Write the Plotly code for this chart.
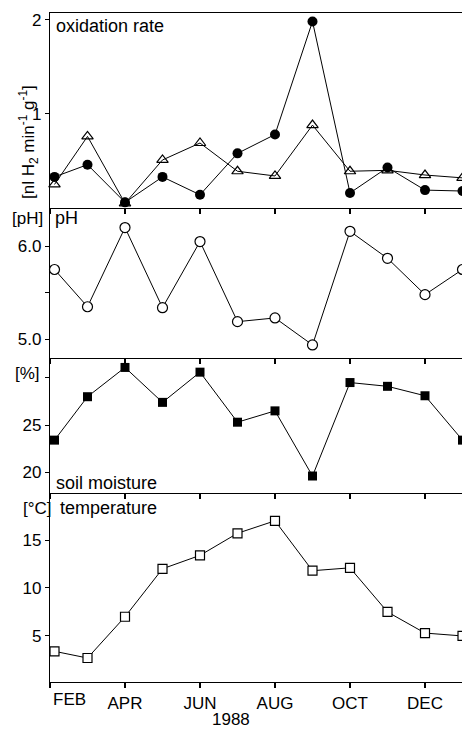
import plotly.graph_objects as go

months_x = [0.12, 1, 2, 3, 4, 5, 6, 7, 8, 9, 10, 11]
tick_pos = [0, 2, 4, 6, 8, 10]
tick_labels = ["FEB", "APR", "JUN", "AUG", "OCT", "DEC"]

ox_filled = [0.33, 0.46, 0.06, 0.33, 0.14, 0.58, 0.78, 1.98, 0.16, 0.43, 0.19, 0.18]
ox_open = [0.25, 0.76, 0.05, 0.51, 0.69, 0.39, 0.34, 0.88, 0.39, 0.40, 0.35, 0.32]
ph = [5.75, 5.35, 6.20, 5.34, 6.05, 5.19, 5.23, 4.94, 6.16, 5.87, 5.48, 5.75]
moisture = [23.4, 28.0, 31.1, 27.4, 30.6, 25.3, 26.5, 19.6, 29.5, 29.1, 28.1, 23.4]
temperature = [3.4, 2.7, 7.0, 12.0, 13.4, 15.7, 17.0, 11.8, 12.1, 7.5, 5.3, 5.0]

FONT = "Liberation Sans"
TICK = 17
LAB = 18
fig = go.Figure()

line = dict(color="black", width=1)
fig.add_trace(go.Scatter(x=months_x, y=ox_open, mode="lines+markers", line=line,
                         marker=dict(symbol="triangle-up-open", size=10, color="black",
                                     line=dict(width=1.2)),
                         xaxis="x", yaxis="y", cliponaxis=False))
fig.add_trace(go.Scatter(x=months_x, y=ox_filled, mode="lines+markers", line=line,
                         marker=dict(symbol="circle", size=10, color="black"),
                         xaxis="x", yaxis="y", cliponaxis=False))
fig.add_trace(go.Scatter(x=months_x, y=ph, mode="lines+markers", line=line,
                         marker=dict(symbol="circle", size=10, color="white",
                                     line=dict(color="black", width=1.2)),
                         xaxis="x2", yaxis="y2", cliponaxis=False))
fig.add_trace(go.Scatter(x=months_x, y=moisture, mode="lines+markers", line=line,
                         marker=dict(symbol="square", size=9, color="black"),
                         xaxis="x3", yaxis="y3", cliponaxis=False))
fig.add_trace(go.Scatter(x=months_x, y=temperature, mode="lines+markers", line=line,
                         marker=dict(symbol="square", size=9, color="white",
                                     line=dict(color="black", width=1.2)),
                         xaxis="x4", yaxis="y4", cliponaxis=False))

# page has an 8px body margin: figure is drawn 8px right/down
OFF = 8
FW, FH = 470 - OFF, 729 - OFF
L, R, T, B = 50, 470, 13, 682  # plot area in reference pixel coords
W = float(R - L)
H = float(B - T)
d_temp = [0, 189 / H]
d_moist = [189 / H, 324 / H]
d_ph = [324 / H, 474 / H]
d_ox = [474 / H, 1]

xcommon = dict(range=[0, 11.2], autorange=False, automargin=False, showline=True,
               linecolor="black", linewidth=1.3,
               ticks="outside", ticklen=5, tickcolor="black", tickwidth=1.5,
               tickvals=tick_pos, showgrid=False, zeroline=False)
ycommon = dict(showline=True, automargin=False, autorange=False, linecolor="black",
               linewidth=1.3, ticks="outside",
               ticklen=4, tickcolor="black", tickwidth=1, showgrid=False,
               zeroline=False, tickfont=dict(family=FONT, size=TICK, color="black"))

fig.update_layout(
    width=FW, height=FH,
    margin=dict(l=L - OFF, r=470 - R, t=T - OFF, b=729 - B, pad=0, autoexpand=False),
    paper_bgcolor="white", plot_bgcolor="white",
    showlegend=False,
    font=dict(family=FONT, size=TICK, color="black"),
    xaxis=dict(**xcommon, anchor="y", showticklabels=False, mirror=True),
    xaxis2=dict(**xcommon, anchor="y2", showticklabels=False),
    xaxis3=dict(**xcommon, anchor="y3", showticklabels=False),
    xaxis4=dict(**xcommon, anchor="y4",
                ticktext=[""] + tick_labels[1:],
                tickfont=dict(family=FONT, size=TICK, color="black")),
    yaxis=dict(**ycommon, domain=d_ox, range=[0, 2.07], tickvals=[1, 2],
               ticktext=["1", "2"], anchor="x"),
    yaxis2=dict(**ycommon, domain=d_ph, range=[4.80, 6.41], tickvals=[5.0, 5.5, 6.0],
                ticktext=["5.0", "", "6.0"], anchor="x2"),
    yaxis3=dict(**ycommon, domain=d_moist, range=[17.8, 32.1], tickvals=[20, 25, 30],
                ticktext=["20", "25", ""], anchor="x3"),
    yaxis4=dict(**ycommon, domain=d_temp, range=[0.2, 19.9], tickvals=[5, 10, 15],
                ticktext=["5", "10", "15"], anchor="x4"),
)

ann = [
    dict(text="oxidation rate", x=54, y=26, xanchor="left", size=LAB),
    dict(text="[nl H<sub>2</sub> min<sup>-1</sup> g<sup>-1</sup>]", x=28, y=142,
         textangle=-90, size=TICK),
    dict(text="[pH]", x=27, y=218, size=TICK),
    dict(text="pH", x=53, y=218, xanchor="left", size=LAB),
    dict(text="[%]", x=27, y=373, size=TICK),
    dict(text="soil moisture", x=54, y=483, xanchor="left", size=LAB),
    dict(text="[°C]", x=37, y=508, size=TICK),
    dict(text="temperature", x=58, y=508, xanchor="left", size=LAB),
    dict(text=tick_labels[0], x=51, y=699, xanchor="left", size=TICK),
    dict(text="1988", x=231, y=719, size=TICK),
]
for a in ann:
    xa = a.get("xanchor", "center")
    fig.add_annotation(text=a["text"], x=(a["x"] - L) / W, y=1 - (a["y"] - T) / H,
                       xref="paper", yref="paper", xanchor=xa, yanchor="middle",
                       showarrow=False, textangle=a.get("textangle", 0),
                       font=dict(family=FONT, size=a["size"], color="black"))

fig.write_html("out.html")
